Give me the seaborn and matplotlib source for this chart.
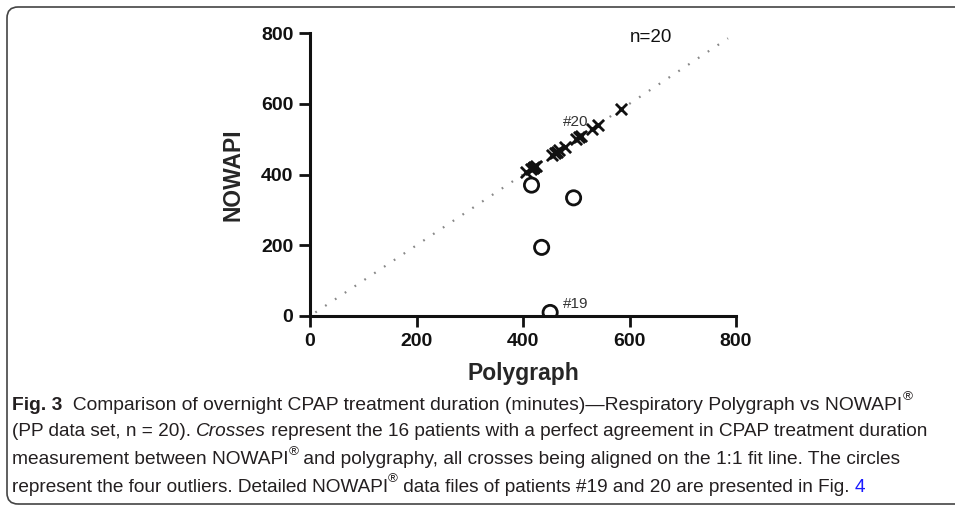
import numpy as np
import pandas as pd
import seaborn as sns
import matplotlib.pyplot as plt
from matplotlib.patches import FancyBboxPatch
from matplotlib.transforms import IdentityTransform

# crosses: perfect agreement (NOWAPI == polygraph)
cross_pg = [406, 415, 418, 421, 424, 454, 460, 464, 468, 479, 500, 505, 509, 530, 540, 584]
cross_nw = [406, 415, 418, 421, 424, 454, 460, 464, 468, 479, 500, 505, 509, 530, 540, 584]
# circles: the four outliers
circ_pg = [416, 495, 435, 451]
circ_nw = [370, 334, 194, 10]
# 1:1 fit line ends
fit_x = [10, 785]
fit_y = [10, 785]
ticks = [0, 200, 400, 600, 800]

sns.set_style("ticks")
plt.rcParams['font.family'] = ['Liberation Sans', 'DejaVu Sans']

fig = plt.figure(figsize=(9.55, 5.05), dpi=100)
ax = fig.add_axes([310/955, 1 - 316/505, 426/955, 283/505])

sns.lineplot(x=fit_x, y=fit_y, ax=ax, color='#888888', lw=1.6,
             linestyle=(0, (0.8, 4.5)))
crosses = pd.DataFrame({'pg': cross_pg, 'nw': cross_nw})
circles = pd.DataFrame({'pg': circ_pg, 'nw': circ_nw})
sns.scatterplot(data=crosses, x='pg', y='nw', ax=ax, marker='x', s=65,
                color='#111111', linewidth=2.0, zorder=3)
sns.scatterplot(data=circles, x='pg', y='nw', ax=ax, marker='o', s=105,
                facecolor='none', edgecolor='#111111', linewidth=2.0, zorder=3)

ax.text(475, 549, '#20', fontsize=11, color='#333333', va='center')
ax.text(475, 34, '#19', fontsize=11, color='#333333', va='center')
ax.text(601, 786, 'n=20', fontsize=13.5, color='#111111', va='center')

ax.set_xlim(0, 800)
ax.set_ylim(0, 800)
ax.set_xticks(ticks)
ax.set_yticks(ticks)
ax.tick_params(width=2, length=8, labelsize=14, colors='#111111', pad=4)
for lab in ax.get_xticklabels() + ax.get_yticklabels():
    lab.set_fontweight('bold')
for s in ['left', 'bottom']:
    ax.spines[s].set_linewidth(2.2)
    ax.spines[s].set_color('#111111')
sns.despine(ax=ax)
ax.set_xlabel('Polygraph', fontsize=16.5, fontweight='bold', labelpad=9)
ax.set_ylabel('NOWAPI', fontsize=16.5, fontweight='bold', labelpad=12)

# rounded frame round the figure
frame = FancyBboxPatch((7, 1), 1000, 497, boxstyle="round,pad=0,rounding_size=11",
                       transform=IdentityTransform(), fill=False,
                       edgecolor='#444444', lw=1.2)
fig.patches.append(frame)

# caption
cap_font = ['Liberation Sans', 'DejaVu Sans']
cap_size = 14.0
cap_col = '#231f20'
lines = [
    [('Fig. 3', 'bold', 'normal'), ('  Comparison of overnight CPAP treatment duration (minutes)\u2014Respiratory Polygraph vs NOWAPI', 'normal', 'normal'), ('®', 'sup', 'normal')],
    [('(PP data set, n = 20). ', 'normal', 'normal'), ('Crosses', 'normal', 'italic'), (' represent the 16 patients with a perfect agreement in CPAP treatment duration', 'normal', 'normal')],
    [('measurement between NOWAPI', 'normal', 'normal'), ('®', 'sup', 'normal'), (' and polygraphy, all crosses being aligned on the 1:1 fit line. The circles', 'normal', 'normal')],
    [('represent the four outliers. Detailed NOWAPI', 'normal', 'normal'), ('®', 'sup', 'normal'), (' data files of patients #19 and 20 are presented in Fig. ', 'normal', 'normal'), ('4', 'link', 'normal')],
]
line_y = [403, 430, 458, 485]
line_end = [917, 935, 907, 877]

renderer = fig.canvas.get_renderer()


def draw_line(parts, yy, size0):
    x = 12
    made = []
    for txt, kind, style in parts:
        size = size0
        dy = 0
        weight = 'normal'
        color = cap_col
        if kind == 'bold':
            weight = 'bold'
        if kind == 'sup':
            size = size0 * 0.7
            dy = -7
        if kind == 'link':
            color = '#1a1aff'
        t = fig.text(x / 955, 1 - (yy + dy) / 505, txt, fontsize=size, fontweight=weight,
                     fontstyle=style, color=color, family=cap_font, va='center_baseline')
        made.append(t)
        x += t.get_window_extent(renderer).width
    return made, x


for parts, yy, xend in zip(lines, line_y, line_end):
    made, x = draw_line(parts, yy, cap_size)
    for t in made:
        t.remove()
    draw_line(parts, yy, cap_size * (xend - 12) / (x - 12))

fig.savefig('out.png', dpi=100)
